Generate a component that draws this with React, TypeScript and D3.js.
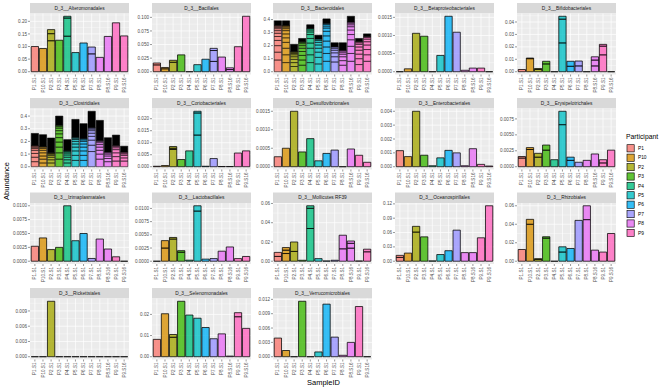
import React from "react";
import * as d3 from "d3";

// samples in x order, and the participant each belongs to
const samples = ["P1.S1", "P10.S1", "P2.S1", "P3.S1", "P4.S1", "P5.S1", "P6.S1", "P7.S1", "P8.S1", "P8.S16", "P9.S1", "P9.S16"];
const sampleParticipant = ["P1", "P10", "P2", "P3", "P4", "P5", "P6", "P7", "P8", "P8", "P9", "P9"];
const participants = ["P1", "P10", "P2", "P3", "P4", "P5", "P6", "P7", "P8", "P9"];
const palette = ["#F8766D", "#D89000", "#A3A500", "#39B600", "#00BF7D", "#00BFC4", "#00B0F6", "#9590FF", "#E76BF3", "#FF62BC"];

const orders = [
  "D_3__Alteromonadales", "D_3__Bacillales", "D_3__Bacteroidales", "D_3__Betaproteobacteriales", "D_3__Bifidobacteriales",
  "D_3__Clostridiales", "D_3__Coriobacteriales", "D_3__Desulfovibrionales", "D_3__Enterobacteriales", "D_3__Erysipelotrichales",
  "D_3__Izimaplasmatales", "D_3__Lactobacillales", "D_3__Mollicutes RF39", "D_3__Oceanospirillales", "D_3__Rhizobiales",
  "D_3__Rickettsiales", "D_3__Selenomonadales", "D_3__Verrucomicrobiales",
];

// stacked OTU abundances per sample (bottom to top)
const alteromonadales = [[0.1], [0.092], [0.123, 0.028, 0.016], [0.125], [0.141, 0.072, 0.007], [0.076], [0.114], [0.071, 0.027], [0.057], [0.14], [0.194], [0.142]];
const bacillales = [[0.0126, 0.0034], [0.0054, 0.0024], [0.0174, 0.0036], [0.031], [0], [0.013], [0.023], [0.019, 0.02, 0.004], [0.027], [0.004, 0.0032], [0.046], [0.102]];
const bacteroidales = [
  [0.09, 0.06, 0.05, 0.04, 0.03, 0.025, 0.02, 0.015, 0.01, 0.008, 0.007],
  [0.07, 0.06, 0.05, 0.045, 0.035, 0.03, 0.025, 0.015, 0.012, 0.008, 0.005],
  [0.04, 0.03, 0.025, 0.02, 0.015, 0.01, 0.008, 0.007],
  [0.05, 0.04, 0.035, 0.03, 0.025, 0.02, 0.015, 0.01, 0.005],
  [0.07, 0.06, 0.05, 0.04, 0.035, 0.03, 0.02, 0.015, 0.01],
  [0.06, 0.05, 0.04, 0.03, 0.025, 0.02, 0.015, 0.01],
  [0.08, 0.06, 0.05, 0.045, 0.04, 0.035, 0.025, 0.015, 0.012, 0.008],
  [0.075, 0.04, 0.03, 0.02, 0.015, 0.01],
  [0.05, 0.035, 0.03, 0.02, 0.015, 0.01, 0.005],
  [0.08, 0.06, 0.055, 0.05, 0.04, 0.035, 0.025, 0.015, 0.012, 0.008],
  [0.055, 0.045, 0.035, 0.03, 0.025, 0.02, 0.012, 0.008],
  [0.08, 0.05, 0.04, 0.035, 0.025, 0.02, 0.012, 0.008],
];
const bacteroidalesRare = [0.035, 0.035, 0.055, 0.025, 0.03, 0.03, 0.035, 0.032, 0.057, 0.045, 0.025, 0.02];
const betaproteobacteriales = [[0], [0.00008], [0.00106], [0.00098], [0], [0.00045], [0.00153], [0.00109], [0.00004], [0.0001], [0.0001], [0]];
const bifidobacteriales = [[0.0018], [0.0105, 0.0005], [0.0018, 0.0008], [0.0063, 0.0021], [0], [0.0232, 0.0191, 0.0023], [0.0044, 0.004], [0.0047, 0.0039], [0], [0.0047, 0.0047, 0.0026], [0.0136, 0.007, 0.0014], [0]];
const clostridiales = [
  [0.04, 0.035, 0.03, 0.025, 0.015, 0.01, 0.008, 0.005],
  [0.03, 0.03, 0.025, 0.025, 0.02, 0.015, 0.01, 0.005],
  [0.03, 0.025, 0.02, 0.015, 0.01, 0.006, 0.004],
  [0.06, 0.05, 0.045, 0.04, 0.035, 0.03, 0.025, 0.02, 0.012, 0.01],
  [0.03, 0.025, 0.02, 0.018, 0.015, 0.01, 0.006, 0.004],
  [0.05, 0.04, 0.035, 0.03, 0.025, 0.02, 0.015, 0.01, 0.007],
  [0.05, 0.04, 0.035, 0.03, 0.025, 0.02, 0.012, 0.008, 0.004],
  [0.12, 0.05, 0.04, 0.03, 0.025, 0.02, 0.012, 0.008, 0.005],
  [0.06, 0.04, 0.03, 0.025, 0.02, 0.015, 0.01, 0.006],
  [0.04, 0.025, 0.02, 0.015, 0.01, 0.006],
  [0.045, 0.035, 0.03, 0.025, 0.015, 0.01, 0.008],
  [0.045, 0.025, 0.02, 0.012, 0.008, 0.006],
];
const clostridialesRare = [0.095, 0.093, 0.117, 0.073, 0.086, 0.142, 0.116, 0.128, 0.16, 0.113, 0.082, 0.046];
const coriobacteriales = [[0.0002], [0.0005], [0.0072, 0.0005, 0.0007], [0.003], [0.0066], [0.0132, 0.0092, 0.0007], [0.0002], [0.0034], [0.0001], [0.0001], [0.0057], [0.0066]];
const desulfovibrionales = [[0.00027], [0.0005], [0.0015], [0.0004], [0.00076], [0.00016], [0.00036], [0.00045], [0], [0.00048], [0.00031], [0.00012]];
const enterobacteriales = [[0.00116], [0.00073], [0.004], [0.00083], [0.00007], [0.00064], [0.00118], [0.001], [0.00007], [0.0013], [0.00017], [0.00005]];
const erysipelotrichales = [[0.00136, 0.00024], [0.0027, 0.0003], [0.0015, 0.0006], [0.0026, 0.0008], [0.0011], [0.0066, 0.0021], [0.001, 0.0005], [0.0007], [0.001], [0.002], [0.0006, 0.0005], [0.0026]];
const izimaplasmatales = [[0.0027], [0.0042], [0.0021], [0.0025], [0.01], [0.0037], [0.005], [0.0005], [0.004], [0.0022], [0.0008], [0]];
const lactobacillales = [[0], [0.0025, 0.0014], [0.0042, 0.0003], [0.0017, 0.0003], [0.0002], [0.0095, 0.001], [0.0004], [0.0005], [0.0019], [0.0027], [0.0005], [0.0009]];
const mollicutesRF39 = [[0.005, 0.0042], [0.008, 0.0035, 0.0027], [0.0102, 0.0098], [0.001], [0.034, 0.021, 0.0026], [0.0027], [0.0003], [0.001], [0.0129, 0.0141], [0.0136, 0.005, 0.0024], [0.0003], [0.0098, 0.0027]];
const oceanospirillales = [[0.008, 0.0043], [0.017], [0.061, 0.012], [0.051], [0.0007], [0.014], [0.022], [0.065], [0.018], [0.018], [0.049], [0.116]];
const rhizobiales = [[0.0127], [0.04, 0.0053], [0.0018, 0.001], [0.025, 0.0015], [0], [0.01, 0.0056], [0.0138], [0.0442], [0.045, 0.015], [0.012], [0.0099], [0.03]];
const rickettsiales = [[0], [0], [0.0109], [0], [0], [0], [0], [0], [0], [0], [0], [0]];
const selenomonadales = [[0.0082], [0.0203], [0.0092, 0.0013], [0.0262], [0.0197], [0.0182], [0.0138], [0.0085], [0.0108], [0.0003], [0.0189, 0.0019], [0.0134]];
const verrucomicrobiales = [[0.0039], [0.0013], [0], [0.0116], [0], [0.001], [0.011], [0.0041], [0.0003], [0.003], [0.0105], [0]];

const orderValues = [
  alteromonadales, bacillales, bacteroidales, betaproteobacteriales, bifidobacteriales,
  clostridiales, coriobacteriales, desulfovibrionales, enterobacteriales, erysipelotrichales,
  izimaplasmatales, lactobacillales, mollicutesRF39, oceanospirillales, rhizobiales,
  rickettsiales, selenomonadales, verrucomicrobiales,
];
const orderRare: (number[] | null)[] = [null, null, bacteroidalesRare, null, null, clostridialesRare, null, null, null, null, null, null, null, null, null, null, null, null];

const orderTicks = [
  ["0.00", "0.05", "0.10", "0.15", "0.20"],
  ["0.000", "0.025", "0.050", "0.075", "0.100"],
  ["0.0", "0.1", "0.2", "0.3", "0.4"],
  ["0.0000", "0.0005", "0.0010", "0.0015"],
  ["0.00", "0.01", "0.02", "0.03", "0.04"],
  ["0.0", "0.1", "0.2", "0.3", "0.4"],
  ["0.000", "0.005", "0.010", "0.015", "0.020"],
  ["0.0000", "0.0005", "0.0010", "0.0015"],
  ["0.000", "0.001", "0.002", "0.003", "0.004"],
  ["0.0000", "0.0025", "0.0050", "0.0075"],
  ["0.0000", "0.0025", "0.0050", "0.0075", "0.0100"],
  ["0.0000", "0.0025", "0.0050", "0.0075", "0.0100"],
  ["0.00", "0.02", "0.04", "0.06"],
  ["0.00", "0.03", "0.06", "0.09", "0.12"],
  ["0.00", "0.02", "0.04", "0.06"],
  ["0.000", "0.003", "0.006", "0.009"],
  ["0.00", "0.01", "0.02"],
  ["0.000", "0.003", "0.006", "0.009", "0.012"],
];

// layout
const colLeft = [30, 152, 273, 395, 517];
const rowTop = [3, 98, 192.5, 288];
const panelW = 99;
const stripH = 10.5;
const panelH = 61;
const font = "Liberation Sans, Arial, sans-serif";
const alpha = 0.78;

const color = d3.scaleOrdinal<string, string>().domain(participants).range(palette);

function Panel({ idx }: { idx: number }) {
  const left = colLeft[idx % 5];
  const top = rowTop[Math.floor(idx / 5)];
  const pTop = top + stripH;
  const bottom = pTop + panelH;
  const values = orderValues[idx];
  const rare = orderRare[idx];
  const totals = values.map((segs, i) => d3.sum(segs) + (rare ? rare[i] : 0));
  const max = d3.max(totals) as number;
  const y = d3.scaleLinear().domain([-0.05 * max, max * 1.05]).range([bottom, pTop]);
  const x = d3.scaleLinear().domain([0.4, samples.length + 0.6]).range([left, left + panelW]);
  const ticks = orderTicks[idx].map(Number);
  const step = ticks[1] - ticks[0];
  const minors = d3.range(-1, ticks.length).map(k => ticks[0] + step / 2 + k * step)
    .filter(v => v > y.domain()[0] && v < y.domain()[1]);
  const half = 0.45;

  const rects: JSX.Element[] = [];
  values.forEach((segs, i) => {
    const fill = color(sampleParticipant[i]);
    let acc = 0;
    const x0 = x(i + 1 - half), x1 = x(i + 1 + half);
    const parts = segs.map(v => ({ v, fill, op: alpha }));
    if (rare) parts.push({ v: rare[i], fill: "#000", op: 1 });
    parts.forEach((p, j) => {
      const y0 = y(acc), y1 = y(acc + p.v);
      acc += p.v;
      rects.push(
        <path key={`${i}-${j}`} d={`M${x0},${y0}H${x1}V${y1}H${x0}Z`}
          fill={p.fill} fillOpacity={p.op} stroke="#000" strokeWidth={rare ? 0.55 : 0.75} />
      );
    });
  });

  return (
    <g>
      <rect x={left} y={top} width={panelW} height={stripH} fill="#D9D9D9" />
      <text x={left + panelW / 2} y={top + stripH / 2 + 1.7} textAnchor="middle" fontSize={4.8} fill="#1A1A1A">{orders[idx]}</text>
      <rect x={left} y={pTop} width={panelW} height={panelH} fill="#EBEBEB" />
      {minors.map((v, k) => (
        <line key={`mn${k}`} x1={left} x2={left + panelW} y1={y(v)} y2={y(v)} stroke="#fff" strokeWidth={0.35} />
      ))}
      {ticks.map((v, k) => (
        <line key={`mj${k}`} x1={left} x2={left + panelW} y1={y(v)} y2={y(v)} stroke="#fff" strokeWidth={0.7} />
      ))}
      {samples.map((s, i) => (
        <line key={`v${i}`} x1={x(i + 1)} x2={x(i + 1)} y1={pTop} y2={bottom} stroke="#fff" strokeWidth={0.7} />
      ))}
      {rects}
      {ticks.map((v, k) => (
        <g key={`yt${k}`}>
          <line x1={left - 2} x2={left} y1={y(v)} y2={y(v)} stroke="#333" strokeWidth={0.5} />
          <text x={left - 3} y={y(v) + 1.6} textAnchor="end" fontSize={4.6} fill="#4D4D4D">{orderTicks[idx][k]}</text>
        </g>
      ))}
      {samples.map((s, i) => (
        <g key={`xt${i}`}>
          <line x1={x(i + 1)} x2={x(i + 1)} y1={bottom} y2={bottom + 2} stroke="#333" strokeWidth={0.5} />
          <text transform={`translate(${x(i + 1) + 1.6},${bottom + 3}) rotate(-90)`} textAnchor="end" fontSize={4.6} fill="#4D4D4D">{s}</text>
        </g>
      ))}
    </g>
  );
}

export default function App() {
  const legendTop = 148.3;
  const legendStep = 9.4;
  return (
    <svg width={660} height={390} style={{ position: "absolute", left: 0, top: 0 }} fontFamily={font}>
      <rect width={660} height={390} fill="#fff" />
      {orders.map((o, i) => <Panel key={o} idx={i} />)}
      <text transform="translate(9,181) rotate(-90)" textAnchor="middle" fontSize={7.5} fill="#000">Abundance</text>
      <text x={323.5} y={385} textAnchor="middle" fontSize={7.5} fill="#000">SampleID</text>
      <text x={626} y={139} fontSize={6.8} fill="#000">Participant</text>
      {participants.map((p, i) => (
        <g key={p}>
          <rect x={626.5} y={legendTop + i * legendStep - 4} width={8} height={8} fill="#F2F2F2" />
          <rect x={627} y={legendTop + i * legendStep - 3.6} width={7.2} height={7.2}
            fill={color(p)} fillOpacity={alpha} stroke="#000" strokeWidth={0.6} />
          <text x={638} y={legendTop + i * legendStep + 1.7} fontSize={4.8} fill="#000">{p}</text>
        </g>
      ))}
    </svg>
  );
}
